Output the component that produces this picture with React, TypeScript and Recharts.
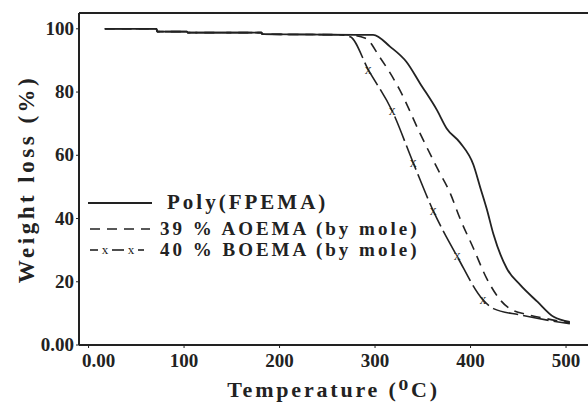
import React from 'react';
import { LineChart, Line, XAxis, YAxis, ReferenceLine } from 'recharts';

// Poly(FPEMA) - solid
const polyTemp = [17, 71, 72, 103, 104, 181, 182, 280, 298, 316, 333, 347, 365, 375, 389, 403, 410, 417, 424, 438, 452, 470, 487, 504];
const polyLoss = [100, 100, 99.1, 99.1, 98.8, 98.8, 98.3, 98.1, 98.1, 94.3, 89.5, 82.8, 74.2, 68.5, 64, 57, 50, 43, 35, 24.2, 19, 13.7, 8.9, 7.3];

// 39 % AOEMA - dashed
const aoemaTemp = [17, 71, 72, 103, 104, 181, 182, 270, 290, 305, 326, 347, 365, 379, 389, 403, 417, 431, 441, 460, 480, 504];
const aoemaLoss = [100, 100, 99.1, 99.1, 98.8, 98.8, 98.3, 98.1, 97, 91, 80.6, 67, 56, 47.8, 40, 30.6, 21, 14.3, 11.5, 9.6, 8.3, 7];

// 40 % BOEMA - dashed with x marks
const boemaTemp = [17, 71, 72, 103, 104, 181, 182, 262, 274, 293, 318, 340, 361, 386, 413, 424, 452, 504];
const boemaLoss = [100, 100, 99.1, 99.1, 98.8, 98.8, 98.3, 98.1, 97.5, 87, 74, 57.6, 42.4, 28, 14.3, 11.5, 9.5, 6.7];
const boemaMarks = [293, 318, 340, 361, 386, 413];

const xTicks = [0, 100, 200, 300, 400, 500];
const yTicks = [0, 20, 40, 60, 80, 100];

const toRows = (t: number[], w: number[]) => t.map((x, i) => ({ temp: x, loss: w[i] }));

const polyData = toRows(polyTemp, polyLoss);
const aoemaData = toRows(aoemaTemp, aoemaLoss);
const boemaData = toRows(boemaTemp, boemaLoss);

const FONT = '"Liberation Serif", "DejaVu Serif", serif';
const INK = '#222';

const XTick = (props: any) => {
  const { x, y, payload } = props;
  const v = payload.value;
  return (
    <text x={v === 0 ? x + 10 : x} y={y + 17} textAnchor="middle" fontFamily={FONT} fontWeight="bold" fontSize={19} fill={INK}>
      {v === 0 ? '0.00' : v}
    </text>
  );
};

const YTick = (props: any) => {
  const { x, y, payload } = props;
  const v = payload.value;
  return (
    <text x={x} y={y + 6} textAnchor="end" fontFamily={FONT} fontWeight="bold" fontSize={19} fill={INK}>
      {v === 0 ? '0.00' : v}
    </text>
  );
};

const XMark = (props: any) => {
  const { cx, cy, payload } = props;
  if (!boemaMarks.includes(payload.temp)) return <g key={`d${payload.temp}`} />;
  return (
    <text key={`d${payload.temp}`} x={cx} y={cy + 4} textAnchor="middle" fontFamily={FONT} fontSize={14} fill={INK}>
      x
    </text>
  );
};

const legendText: React.CSSProperties = {
  position: 'absolute',
  fontFamily: FONT,
  fontWeight: 'bold',
  color: INK,
  whiteSpace: 'nowrap',
  lineHeight: '20px',
};

export default function App() {
  return (
    <div style={{ position: 'absolute', left: 0, top: 0, width: 588, height: 407, background: '#fff' }}>
      <LineChart width={588} height={407} margin={{ top: 13, right: 0, left: 0, bottom: 0 }}>
        <XAxis
          type="number"
          dataKey="temp"
          domain={[-10, 523]}
          ticks={xTicks}
          tick={<XTick />}
          tickSize={3}
          height={62}
          axisLine={{ stroke: INK, strokeWidth: 2 }}
          tickLine={{ stroke: INK }}
          allowDataOverflow
          label={{
            value: 'Temperature (⁰C)',
            position: 'insideBottom',
            offset: 10,
            style: { fontFamily: FONT, fontWeight: 'bold', fontSize: 22, letterSpacing: 2.8, fill: INK },
          }}
        />
        <YAxis
          type="number"
          domain={[0, 105]}
          ticks={yTicks}
          tick={<YTick />}
          tickSize={3}
          width={79}
          axisLine={{ stroke: INK, strokeWidth: 2 }}
          tickLine={{ stroke: INK }}
          allowDataOverflow
          label={{
            value: 'Weight loss (%)',
            angle: -90,
            position: 'insideLeft',
            offset: 26,
            style: { textAnchor: 'middle', fontFamily: FONT, fontWeight: 'bold', fontSize: 23, letterSpacing: 3.5, fill: INK },
          }}
        />
        <ReferenceLine y={105} stroke={INK} strokeWidth={2} />
        <Line
          data={polyData}
          dataKey="loss"
          type="monotone"
          stroke={INK}
          strokeWidth={1.8}
          dot={false}
          isAnimationActive={false}
        />
        <Line
          data={aoemaData}
          dataKey="loss"
          type="monotone"
          stroke={INK}
          strokeWidth={1.6}
          strokeDasharray="10 7"
          dot={false}
          isAnimationActive={false}
        />
        <Line
          data={boemaData}
          dataKey="loss"
          type="monotone"
          stroke={INK}
          strokeWidth={1.6}
          strokeDasharray="26 5"
          dot={<XMark />}
          isAnimationActive={false}
        />
      </LineChart>

      {/* legend */}
      <svg style={{ position: 'absolute', left: 86, top: 190 }} width={70} height={70}>
        <line x1={2} y1={13} x2={66} y2={13} stroke={INK} strokeWidth={1.8} />
        <line x1={4} y1={39} x2={64} y2={39} stroke={INK} strokeWidth={1.6} strokeDasharray="10 7" />
        <line x1={4} y1={60} x2={12} y2={60} stroke={INK} strokeWidth={1.6} />
        <text x={19} y={64} textAnchor="middle" fontFamily={FONT} fontSize={13} fill={INK}>x</text>
        <line x1={26} y1={60} x2={38} y2={60} stroke={INK} strokeWidth={1.6} />
        <text x={45} y={64} textAnchor="middle" fontFamily={FONT} fontSize={13} fill={INK}>x</text>
        <line x1={52} y1={60} x2={58} y2={60} stroke={INK} strokeWidth={1.6} />
      </svg>
      <div style={{ ...legendText, left: 167, top: 192, fontSize: 21, letterSpacing: 3 }}>Poly(FPEMA)</div>
      <div style={{ ...legendText, left: 160, top: 219, fontSize: 19, letterSpacing: 3 }}>39 % AOEMA (by mole)</div>
      <div style={{ ...legendText, left: 160, top: 240, fontSize: 19, letterSpacing: 3 }}>40 % BOEMA (by mole)</div>
    </div>
  );
}
